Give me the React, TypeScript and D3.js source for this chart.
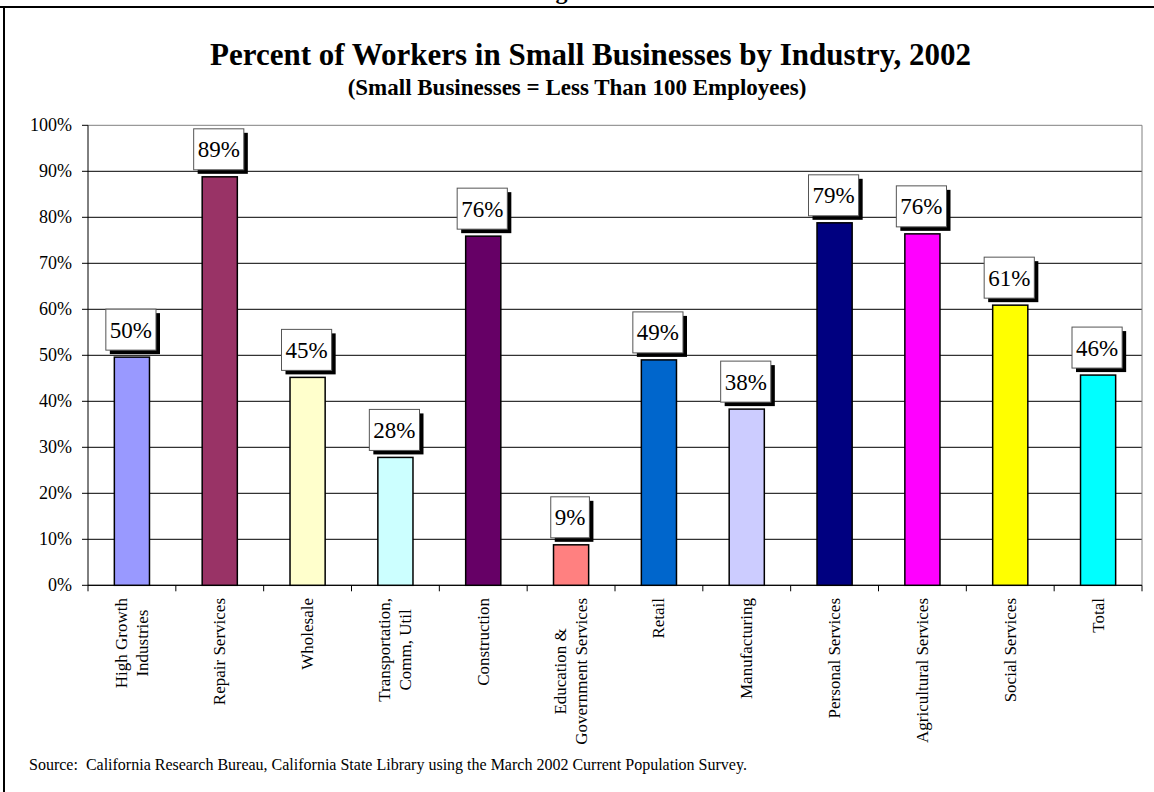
import React from "react";
import * as d3 from "d3";

const categories: string[][] = [
  ["High Growth", "Industries"],
  ["Repair Services"],
  ["Wholesale"],
  ["Transportation,", "Comm, Util"],
  ["Construction"],
  ["Education &", "Government Services"],
  ["Retail"],
  ["Manufacturing"],
  ["Personal Services"],
  ["Agricultural Services"],
  ["Social Services"],
  ["Total"],
];
const values: number[] = [49.6, 88.8, 45.2, 27.8, 75.9, 8.8, 49.0, 38.3, 78.8, 76.4, 60.9, 45.7];
const valueLabels: string[] = ["50%", "89%", "45%", "28%", "76%", "9%", "49%", "38%", "79%", "76%", "61%", "46%"];
const colors: string[] = [
  "#9999FF", "#993366", "#FFFFCC", "#CCFFFF", "#660066", "#FF8080",
  "#0066CC", "#CCCCFF", "#000080", "#FF00FF", "#FFFF00", "#00FFFF",
];
const yTicks: number[] = [0, 10, 20, 30, 40, 50, 60, 70, 80, 90, 100];

const FONT = "'Liberation Serif', 'Times New Roman', serif";

let ctx: CanvasRenderingContext2D | null = null;
function measure(text: string, font: string): number {
  if (!ctx) ctx = document.createElement("canvas").getContext("2d");
  if (!ctx) return text.length * 8;
  ctx.font = font;
  return ctx.measureText(text).width;
}

export default function App() {
  const W = 1154, H = 792;
  const left = 88, right = 1142, top = 125.3, bottom = 585.3;
  const keys = categories.map((c) => c.join(" "));
  const x = d3.scaleBand<string>().domain(keys).range([left, right]).padding(0);
  const y = d3.scaleLinear().domain([0, 100]).range([bottom, top]);
  const step = x.step();
  const barW = step * 0.4;

  return (
    <svg width={W} height={H} style={{ position: "absolute", left: 0, top: 0, background: "#fff" }} fontFamily={FONT}>
      <rect x={0} y={0} width={W} height={H} fill="#fff" />
      {/* heading fragment above the frame */}
      <text x={577} y={-1} fontSize={24} fontWeight="bold" textAnchor="middle" fontFamily={FONT} fill="#000">
        Figure 2
      </text>
      {/* frame */}
      <line x1={0} x2={W} y1={7} y2={7} stroke="#000" strokeWidth={2} />
      <line x1={4} x2={4} y1={6} y2={H} stroke="#000" strokeWidth={2} />

      {/* titles */}
      <text x={210} y={65} fontSize={31} fontWeight="bold" fontFamily={FONT} fill="#000">
        Percent of Workers in Small Businesses by Industry, 2002
      </text>
      <text x={577} y={95} fontSize={23} fontWeight="bold" textAnchor="middle" fontFamily={FONT} fill="#000">
        (Small Businesses = Less Than 100 Employees)
      </text>

      {/* gridlines */}
      {yTicks.map((t) => (
        <line key={"g" + t} x1={left} x2={right} y1={y(t)} y2={y(t)}
          stroke={t === 100 ? "#808080" : "#000"} strokeWidth={1} />
      ))}
      <line x1={right} x2={right} y1={top} y2={bottom} stroke="#808080" strokeWidth={1} />

      {/* y axis */}
      <line x1={left} x2={left} y1={top} y2={bottom} stroke="#000" strokeWidth={1} />
      {yTicks.map((t) => (
        <g key={"yt" + t}>
          <line x1={left - 6} x2={left} y1={y(t)} y2={y(t)} stroke="#000" />
          <text x={72} y={y(t)} fontSize={18} textAnchor="end" dominantBaseline="central" fontFamily={FONT} fill="#000">
            {t + "%"}
          </text>
        </g>
      ))}

      {/* x axis */}
      <line x1={left} x2={right} y1={bottom} y2={bottom} stroke="#000" strokeWidth={1} />
      {keys.map((k, i) => (
        <line key={"xt" + i} x1={x(k)!} x2={x(k)!} y1={bottom} y2={bottom + 6} stroke="#000" />
      ))}
      <line x1={right} x2={right} y1={bottom} y2={bottom + 6} stroke="#000" />

      {/* bars */}
      {keys.map((k, i) => {
        const cx = x(k)! + step / 2;
        return (
          <rect key={"b" + i} x={cx - barW / 2} y={y(values[i])} width={barW}
            height={bottom - y(values[i])} fill={colors[i]} stroke="#000" strokeWidth={1.5} />
        );
      })}

      {/* value label boxes */}
      {keys.map((k, i) => {
        const cx = x(k)! + step / 2 - 1;
        const tw = measure(valueLabels[i], `23px 'Liberation Serif'`);
        const bw = tw + 8;
        const bh = 41;
        const by = y(values[i]) - 7 - bh;
        return (
          <g key={"l" + i}>
            <rect x={cx - bw / 2 + 4} y={by + 4} width={bw} height={bh} fill="#000" />
            <rect x={cx - bw / 2} y={by} width={bw} height={bh} fill="#fff" stroke="#555" strokeWidth={1} />
            <text x={cx} y={by + bh / 2 + 8} fontSize={23} textAnchor="middle"
              fontFamily="'Liberation Serif', serif" fill="#000">
              {valueLabels[i]}
            </text>
          </g>
        );
      })}

      {/* category labels */}
      {categories.map((lines, i) => {
        const cx = x(keys[i])! + step / 2;
        const maxW = Math.max(...lines.map((l) => measure(l, `17px 'Liberation Serif'`)));
        const cy = 598 + maxW / 2;
        const n = lines.length;
        return (
          <g key={"c" + i}>
            {lines.map((l, j) => {
              const lx = cx + (j - (n - 1) / 2) * 21;
              return (
                <text key={j} x={0} y={0} fontSize={17} textAnchor="middle" dominantBaseline="central"
                  transform={`translate(${lx},${cy}) rotate(-90)`} fontFamily={FONT} fill="#000">
                  {l}
                </text>
              );
            })}
          </g>
        );
      })}

      {/* source */}
      <text x={29} y={770} fontSize={16} fontFamily={FONT} fill="#000" xmlSpace="preserve">
        {"Source:  California Research Bureau, California State Library using the March 2002 Current Population Survey."}
      </text>
    </svg>
  );
}
